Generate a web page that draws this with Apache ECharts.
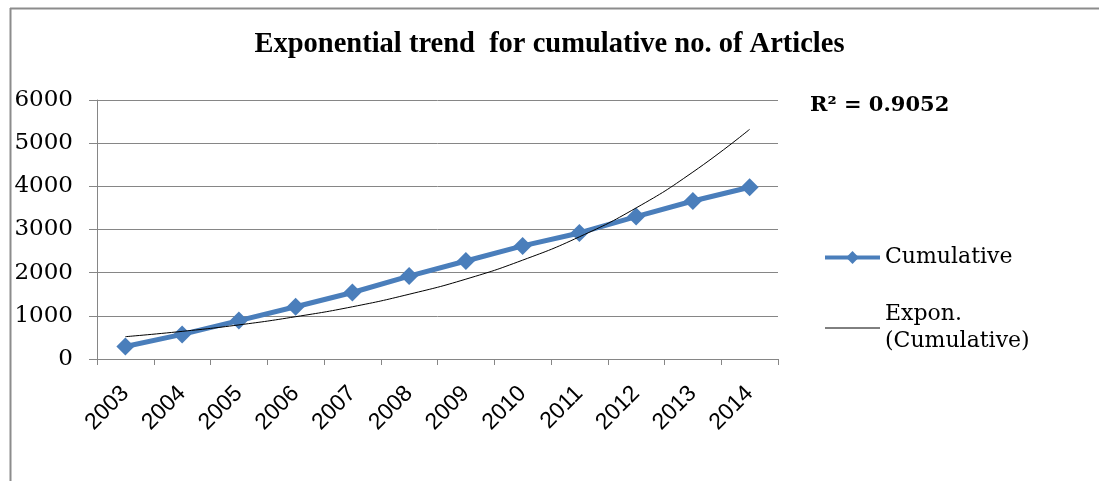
<!DOCTYPE html>
<html>
<head>
<meta charset="utf-8">
<script src="https://cdn.jsdelivr.net/npm/echarts@6/dist/echarts.min.js"></script>
<style>
  html, body { margin: 0; padding: 0; background: #fff; }
  #chart { width: 1099px; height: 481px; }
</style>
</head>
<body>
<div id="chart"></div>
<script>
  // data
  const years = ['2003', '2004', '2005', '2006', '2007', '2008', '2009', '2010', '2011', '2012', '2013', '2014'];
  const cumulative = [290, 570, 890, 1210, 1540, 1920, 2270, 2620, 2920, 3300, 3660, 3980];
  const exponTrend = [517, 640, 790, 980, 1210, 1500, 1850, 2290, 2830, 3500, 4330, 5320];
  const yTicks = [0, 1000, 2000, 3000, 4000, 5000, 6000];
  const rSquared = 'R² = 0.9052';

  const myChart = echarts.init(document.getElementById('chart'));
  myChart.setOption({
    animation: false,
    title: {
      text: 'Exponential trend  for cumulative no. of Articles',
      left: 'center',
      top: 25,
      textStyle: {
        fontFamily: 'Liberation Serif',
        fontWeight: 'bold',
        fontSize: 28.5,
        color: '#000'
      }
    },
    graphic: [
      { type: 'line', shape: { x1: 10.5, y1: 8, x2: 10.5, y2: 481 }, style: { stroke: '#8c8c8c', lineWidth: 2 } },
      { type: 'line', shape: { x1: 10, y1: 8.5, x2: 1099, y2: 8.5 }, style: { stroke: '#8c8c8c', lineWidth: 2 } },
      {
        type: 'text', left: 810, top: 95,
        style: { text: rSquared, font: 'bold 21px "DejaVu Serif"', fill: '#000' }
      }
    ],
    grid: {
      left: 97,
      right: 321,
      top: 100,
      bottom: 122
    },
    legend: {
      orient: 'vertical',
      left: 823,
      top: 244,
      padding: 0,
      itemWidth: 55,
      itemHeight: 16,
      itemGap: 30,
      data: [
        { name: 'Cumulative', lineStyle: { width: 4 } },
        { name: 'Expon. (Cumulative)', itemStyle: { opacity: 0 }, lineStyle: { width: 1 } }
      ],
      formatter: function (name) {
        return name === 'Cumulative' ? name : 'Expon.\n(Cumulative)';
      },
      textStyle: {
        fontFamily: 'DejaVu Serif',
        fontSize: 22,
        lineHeight: 27,
        color: '#000'
      }
    },
    xAxis: {
      type: 'category',
      data: years,
      boundaryGap: true,
      axisLine: { lineStyle: { color: '#868686', width: 1 } },
      axisTick: { show: true, length: 6, lineStyle: { color: '#868686' } },
      axisLabel: {
        rotate: 45,
        interval: 0,
        margin: 31,
        fontFamily: 'Liberation Sans',
        fontSize: 23,
        color: '#000'
      }
    },
    yAxis: {
      type: 'value',
      min: yTicks[0],
      max: yTicks[yTicks.length - 1],
      interval: 1000,
      axisLine: { show: true, lineStyle: { color: '#868686', width: 1 } },
      axisTick: { show: true, length: 8, lineStyle: { color: '#868686' } },
      splitLine: { lineStyle: { color: '#868686', width: 1 } },
      axisLabel: {
        margin: 24,
        fontFamily: 'DejaVu Serif',
        fontSize: 23,
        color: '#000',
        formatter: function (v) { return String(v); }
      }
    },
    series: [
      {
        name: 'Cumulative',
        type: 'line',
        data: cumulative,
        symbol: 'diamond',
        symbolSize: 18,
        lineStyle: { color: '#4a7ebb', width: 5 },
        itemStyle: { color: '#4a7ebb' },
        z: 3
      },
      {
        name: 'Expon. (Cumulative)',
        type: 'line',
        data: exponTrend,
        smooth: true,
        symbol: 'none',
        lineStyle: { color: '#000', width: 1 },
        itemStyle: { color: '#000' },
        z: 4
      }
    ]
  });
</script>
</body>
</html>
